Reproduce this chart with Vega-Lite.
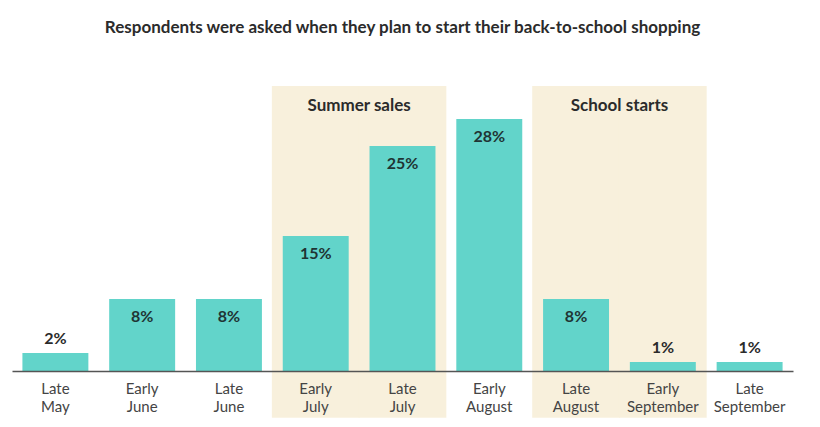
{
  "$schema": "https://vega.github.io/schema/vega-lite/v6.json",
  "width": 781,
  "height": 285,
  "autosize": {"type": "none"},
  "padding": {"left": 12, "top": 86, "right": 27, "bottom": 56},
  "background": "white",
  "config": {
    "font": "Lato",
    "view": {"stroke": null}
  },
  "title": {
    "text": "Respondents were asked when they plan to start their back-to-school shopping",
    "fontSize": 17,
    "fontWeight": "bold",
    "color": "#2b2b2b",
    "anchor": "middle",
    "offset": 49
  },
  "datasets": {
    "bars": [
      {"period": "Late May", "pct": 2},
      {"period": "Early June", "pct": 8},
      {"period": "Late June", "pct": 8},
      {"period": "Early July", "pct": 15},
      {"period": "Late July", "pct": 25},
      {"period": "Early August", "pct": 28},
      {"period": "Late August", "pct": 8},
      {"period": "Early September", "pct": 1},
      {"period": "Late September", "pct": 1}
    ],
    "spans": [
      {"period": "Early July", "label": "Summer sales"},
      {"period": "Late July", "label": ""},
      {"period": "Late August", "label": "School starts"},
      {"period": "Early September", "label": ""}
    ]
  },
  "layer": [
    {
      "data": {"name": "spans"},
      "mark": {"type": "bar", "color": "#f8f0dc", "width": {"band": 1.33}},
      "encoding": {
        "x": {"field": "period", "type": "nominal", "title": null},
        "y": {"datum": 31.67, "type": "quantitative", "axis": null, "title": null},
        "y2": {"datum": -5.2}
      }
    },
    {
      "data": {"name": "spans"},
      "transform": [{"filter": "datum.label != ''"}],
      "mark": {"type": "text", "fontSize": 17, "fontWeight": "bold", "color": "#2b2b2b", "baseline": "middle"},
      "encoding": {
        "x": {"field": "period", "type": "nominal", "bandPosition": 1.158, "title": null},
        "y": {"datum": 29.5, "type": "quantitative", "axis": null, "title": null},
        "text": {"field": "label"}
      }
    },
    {
      "data": {"name": "bars"},
      "mark": {"type": "bar", "color": "#62d4ca"},
      "encoding": {
        "x": {
          "field": "period",
          "type": "nominal",
          "title": null,
          "scale": {
            "domain": ["Late May", "Early June", "Late June", "Early July", "Late July", "Early August", "Late August", "Early September", "Late September"],
            "paddingInner": 0.24,
            "paddingOuter": 0.12
          },
          "axis": {
            "title": null,
            "zindex": 1,
            "ticks": false,
            "domainColor": "#555555",
            "domainWidth": 1.5,
            "labelAngle": 0,
            "labelAlign": "center",
            "labelFontSize": 15,
            "labelColor": "#444444",
            "labelPadding": 17,
            "labelLineHeight": 18,
            "labelExpr": "split(datum.label, ' ')"
          }
        },
        "y": {
          "field": "pct",
          "type": "quantitative",
          "title": null,
          "scale": {"domain": [0, 31.67], "nice": false, "clamp": false},
          "axis": null
        }
      }
    },
    {
      "data": {"name": "bars"},
      "transform": [
        {"filter": "datum.pct >= 5"},
        {"calculate": "datum.pct + '%'", "as": "label"}
      ],
      "mark": {"type": "text", "fontSize": 16, "fontWeight": "bold", "color": "#1f3434", "baseline": "middle", "dy": 18},
      "encoding": {
        "x": {"field": "period", "type": "nominal", "title": null},
        "y": {"field": "pct", "type": "quantitative", "axis": null, "title": null},
        "text": {"field": "label"}
      }
    },
    {
      "data": {"name": "bars"},
      "transform": [
        {"filter": "datum.pct < 5"},
        {"calculate": "datum.pct + '%'", "as": "label"}
      ],
      "mark": {"type": "text", "fontSize": 16, "fontWeight": "bold", "color": "#2b2b2b", "baseline": "middle", "dy": -14},
      "encoding": {
        "x": {"field": "period", "type": "nominal", "title": null},
        "y": {"field": "pct", "type": "quantitative", "axis": null, "title": null},
        "text": {"field": "label"}
      }
    }
  ]
}
